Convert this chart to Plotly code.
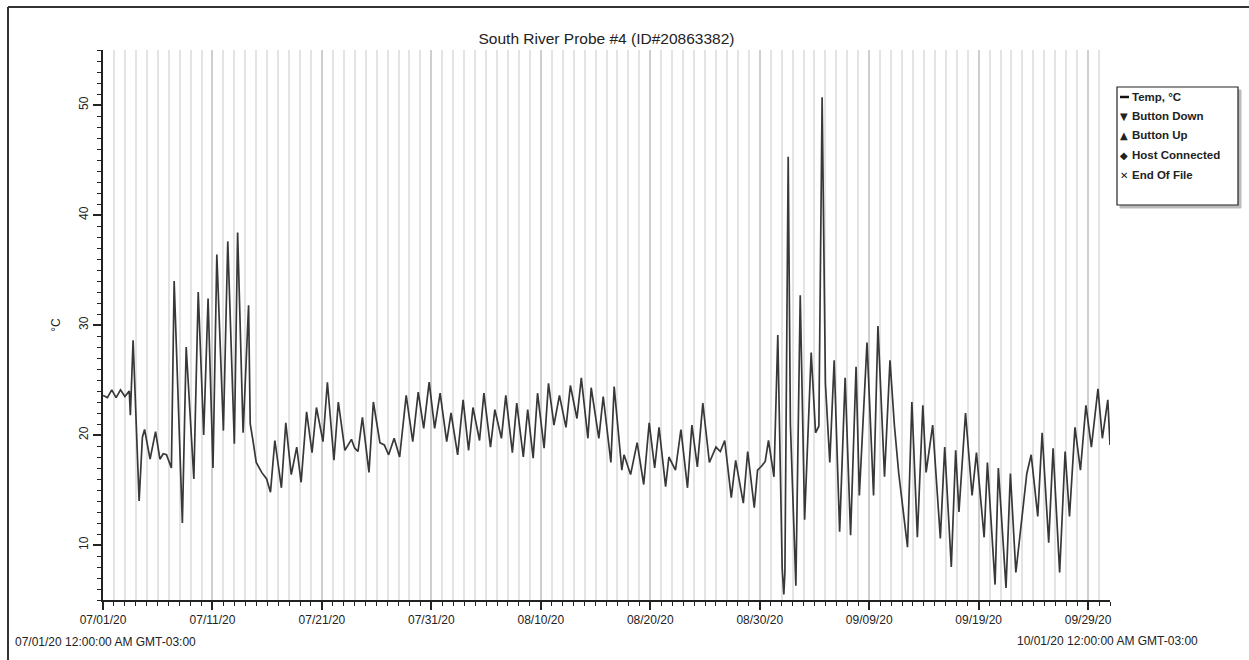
import pandas as pd
import plotly.graph_objects as go

# ---------------- data ----------------
start_date = "2020-07-01"
end_date = "2020-10-01"
# time offsets in days from 07/01/20 00:00 of the local extrema of the trace
day_offsets = [
    0.0, 0.4, 0.8, 1.2, 1.6, 2.0, 2.4, 2.5, 2.75, 3.3, 3.6, 3.8, 4.3, 4.8, 5.2, 5.5, 5.8, 6.25,
    6.5, 7.25, 7.6, 8.3, 8.7, 9.2, 9.6, 10.05, 10.4, 11.0, 11.4, 12.0, 12.3, 12.8, 13.3, 13.45,
    13.7, 14.0, 14.5, 14.95, 15.3, 15.7, 16.3, 16.7, 17.2, 17.7, 18.1, 18.6, 19.1, 19.5, 20.1,
    20.5, 21.1, 21.5, 22.1, 22.7, 23.0, 23.3, 23.7, 24.3, 24.7, 25.3, 25.7, 26.1, 26.6, 27.1,
    27.7, 28.3, 28.8, 29.3, 29.8, 30.3, 30.8, 31.4, 31.8, 32.4, 32.9, 33.4, 33.8, 34.4, 34.8,
    35.4, 35.8, 36.4, 36.8, 37.4, 37.8, 38.4, 38.8, 39.3, 39.7, 40.3, 40.7, 41.2, 41.7, 42.3,
    42.7, 43.3, 43.7, 44.3, 44.6, 45.3, 45.7, 46.4, 46.7, 47.4, 47.6, 48.2, 48.8, 49.4, 49.9,
    50.4, 50.8, 51.4, 51.7, 52.3, 52.8, 53.4, 53.8, 54.3, 54.8, 55.4, 56.0, 56.4, 56.8, 57.4,
    57.8, 58.5, 58.9, 59.5, 59.8, 60.2, 60.5, 60.8, 61.3, 61.65, 62.05, 62.2, 62.3, 62.6, 62.8,
    63.3, 63.7, 64.1, 64.7, 65.1, 65.4, 65.7, 66.0, 66.4, 66.8, 67.3, 67.8, 68.3, 68.8, 69.1,
    69.8, 70.4, 70.8, 71.4, 71.9, 72.3, 72.7, 73.5, 73.9, 74.4, 74.9, 75.2, 75.8, 76.5, 76.9,
    77.5, 77.9, 78.2, 78.8, 79.4, 79.8, 80.5, 80.8, 81.5, 81.8, 82.5, 82.9, 83.4, 83.9, 84.4,
    84.8, 85.4, 85.8, 86.4, 86.8, 87.4, 87.9, 88.3, 88.8, 89.3, 89.8, 90.3, 90.9, 91.3, 91.8,
    92.0,
]
temps_c = [
    23.6, 23.4, 24.1, 23.4, 24.1, 23.5, 24.0, 21.8, 28.6, 14.0, 19.8, 20.5, 17.8, 20.3, 17.8,
    18.3, 18.2, 17.0,
    34.0, 12.0, 28.0, 16.0, 33.0, 20.0, 32.4, 17.0, 36.4, 20.4, 37.6, 19.2, 38.4, 20.2, 31.8,
    21.0,
    19.5, 17.5, 16.6, 16.0, 14.8, 19.5, 15.2, 21.1, 16.4, 18.9, 15.7, 22.1, 18.4, 22.5, 19.4,
    24.8, 17.7, 23.0, 18.6, 19.6, 18.8, 18.5, 21.6, 16.6, 23.0, 19.3, 19.1, 18.2, 19.7, 18.0,
    23.6, 19.4, 23.9, 20.6, 24.8, 20.6, 23.8, 19.4, 22.0, 18.2, 23.2, 18.6, 22.5, 19.5, 23.8,
    18.9, 22.3, 19.7, 23.6, 18.4, 22.9, 18.0, 22.3, 17.9, 23.8, 18.8, 24.7, 20.9, 23.6, 20.7,
    24.5, 21.5, 25.2, 19.7, 24.3, 19.7, 23.5, 17.5, 24.4, 16.8, 18.2, 16.4, 19.3, 15.5, 21.1,
    17.0, 20.7, 15.3, 18.0, 16.8, 20.5, 15.2, 20.9, 17.1, 22.9, 17.5, 18.9, 18.5, 19.5, 14.3,
    17.7, 13.8, 18.5, 13.4, 16.8, 17.2, 17.6, 19.5, 16.2, 29.1, 7.9, 5.5, 7.5, 45.3, 21.0,
    6.3, 32.7, 12.3, 27.5, 20.2, 20.8, 50.7, 24.7, 17.5, 26.8, 11.2, 25.2, 10.9, 26.2, 14.5,
    28.4, 14.5, 29.9, 16.2, 26.8, 20.9, 16.5, 9.8, 23.0, 10.7, 22.7, 16.6, 20.9, 10.6, 18.9,
    8.0, 18.6, 13.0, 22.0, 14.5, 18.4, 10.7, 17.5, 6.4, 17.0, 6.1, 16.5, 7.5, 12.0, 16.5,
    18.2, 12.6, 20.2, 10.2, 18.8, 7.5, 18.5, 12.6, 20.7, 16.8, 22.7, 18.9, 24.2, 19.7, 23.2,
    19.1,
]
y_range = [5, 55]
title_text = "South River Probe #4 (ID#20863382)"
y_title = "°C"
start_label = "07/01/20 12:00:00 AM GMT-03:00"
end_label = "10/01/20 12:00:00 AM GMT-03:00"
legend_symbols = ["", "▼", "▲", "◆", "✕"]
legend_labels = ["Temp, °C", "Button Down", "Button Up", "Host Connected", "End Of File"]

# ---------------- figure ----------------
W, H = 1249, 660
ML, MR, MT, MB = 103, 139, 50, 60
PW, PH = W - ML - MR, H - MT - MB


def px(xp):
    return (xp - ML) / PW


def py(yp):
    return (H - MB - yp) / PH


times = pd.Timestamp(start_date) + pd.to_timedelta(day_offsets, unit="D")

fig = go.Figure()
fig.add_trace(go.Scatter(x=times, y=temps_c, mode="lines",
                         line=dict(color="#383838", width=1.7),
                         showlegend=False, hoverinfo="x+y"))

FONT = "Arial, Liberation Sans, sans-serif"
DAY_MS = 86400000

fig.update_layout(
    width=W, height=H,
    margin=dict(l=ML, r=MR, t=MT, b=MB),
    paper_bgcolor="white", plot_bgcolor="white",
    font=dict(family=FONT, size=12, color="#222"),
    showlegend=False,
    title=dict(text=title_text, x=0.5, xref="paper", xanchor="center",
               y=1 - 39 / H, yref="container", yanchor="middle",
               font=dict(family=FONT, size=15.5, color="#222")),
    xaxis=dict(
        type="date", range=[start_date, end_date],
        tick0=start_date, dtick=10 * DAY_MS, tickformat="%m/%d/%y",
        ticks="outside", ticklen=8, tickwidth=1.5, tickcolor="#222",
        showline=True, linecolor="#222", linewidth=2,
        showgrid=True, gridcolor="#cfcfcf", gridwidth=1.5,
        zeroline=False,
        tickfont=dict(family=FONT, size=12, color="#222"),
        minor=dict(dtick=DAY_MS, tick0=start_date, ticks="outside", ticklen=4,
                   tickcolor="#222", tickwidth=1.2,
                   showgrid=True, gridcolor="#e4e4e4", gridwidth=1.5),
    ),
    yaxis=dict(
        range=y_range, tick0=0, dtick=10,
        ticks="outside", ticklen=8, tickwidth=1.5, tickcolor="#222",
        showline=True, linecolor="#222", linewidth=2,
        showgrid=False, zeroline=False, tickangle=-90,
        tickfont=dict(family=FONT, size=12, color="#222"),
        title=dict(text=y_title, standoff=14, font=dict(family=FONT, size=12, color="#222")),
        minor=dict(dtick=1, ticks="outside", ticklen=4, tickcolor="#222", tickwidth=1.2,
                   showgrid=False),
    ),
)

annotations = [
    dict(text=start_label, x=px(13), y=py(642), xref="paper", yref="paper",
         xanchor="left", yanchor="middle", showarrow=False,
         font=dict(family=FONT, size=12, color="#222")),
    dict(text=end_label, x=px(1200), y=py(641), xref="paper", yref="paper",
         xanchor="right", yanchor="middle", showarrow=False,
         font=dict(family=FONT, size=12, color="#222")),
]

shapes = [
    # outer frame: left and top edges
    dict(type="line", xref="paper", yref="paper", x0=px(8), x1=px(8), y0=py(660), y1=py(7),
         line=dict(color="#333", width=2), layer="above"),
    dict(type="line", xref="paper", yref="paper", x0=px(8), x1=px(1249), y0=py(7), y1=py(7),
         line=dict(color="#333", width=2), layer="above"),
    # legend shadow and box
    dict(type="rect", xref="paper", yref="paper", x0=px(1120), x1=px(1241), y0=py(208), y1=py(90),
         line=dict(color="#bbb", width=1), fillcolor="#bbb", layer="above"),
    dict(type="rect", xref="paper", yref="paper", x0=px(1117), x1=px(1238), y0=py(205), y1=py(87),
         line=dict(color="#222", width=1.2), fillcolor="white", layer="above"),
    # legend line sample for temperature
    dict(type="line", xref="paper", yref="paper", x0=px(1120), x1=px(1129), y0=py(97), y1=py(97),
         line=dict(color="#111", width=2.5), layer="above"),
]

row_y = [97, 116, 135, 155, 175]
for sym, lab, yy in zip(legend_symbols, legend_labels, row_y):
    if sym:
        annotations.append(dict(text=sym, x=px(1124), y=py(yy), xref="paper", yref="paper",
                                xanchor="center", yanchor="middle", showarrow=False,
                                font=dict(family="DejaVu Sans, sans-serif", size=10, color="#222")))
    annotations.append(dict(text=lab, x=px(1130), y=py(yy), xref="paper", yref="paper",
                            xanchor="left", yanchor="middle", showarrow=False,
                            font=dict(family=FONT, size=11.5, color="#222", weight="bold")))

fig.update_layout(annotations=annotations, shapes=shapes)
fig.write_html("out.html")
